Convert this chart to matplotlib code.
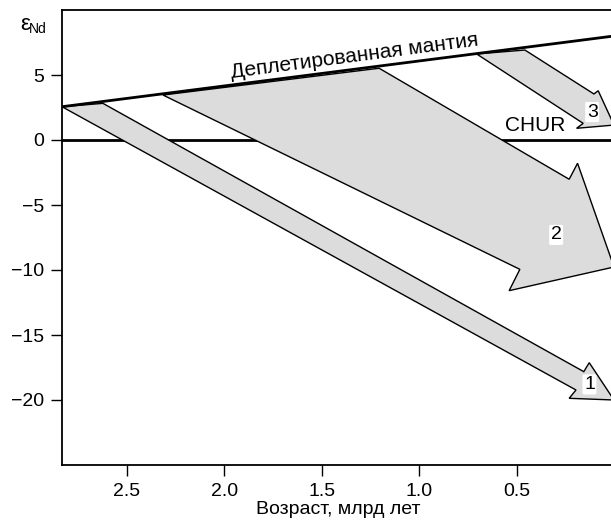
import matplotlib.pyplot as plt
from matplotlib.patches import Polygon

plt.rcParams['font.family'] = ['Liberation Sans', 'DejaVu Sans']

# Деплетированная мантия: возраст (млрд лет) и eps_Nd
dm_age = [2.832, 0.0]
dm_eps = [2.56, 8.0]

# CHUR
chur_age = [2.832, 0.0]
chur_eps = [0.0, 0.0]

# контуры стрелок (возраст, eps_Nd), по часовой стрелке от хвоста
arrow1_age = [2.832, 2.622, 0.155, 0.127, 0.0, 0.230, 0.195]
arrow1_eps = [2.56, 2.82, -17.82, -17.13, -20.0, -19.87, -19.23]

arrow2_age = [2.314, 1.205, 0.230, 0.187, 0.0, 0.538, 0.483]
arrow2_eps = [3.46, 5.52, -3.02, -1.79, -9.77, -11.59, -9.95]

arrow3_age = [0.705, 0.457, 0.103, 0.081, 0.0, 0.192, 0.158]
arrow3_eps = [6.62, 6.92, 3.54, 3.79, 1.15, 0.90, 1.28]

arrow_labels = ["1", "2", "3"]
label_age = [0.126, 0.297, 0.112]
label_eps = [-18.8, -7.3, 2.15]

xticks = [2.5, 2.0, 1.5, 1.0, 0.5]
yticks = [5, 0, -5, -10, -15, -20]

fig = plt.figure(figsize=(6.11, 5.26), dpi=100, facecolor='white')
W, H = 611, 526
ax = fig.add_axes([62 / W, (H - 465) / H, (614 - 62) / W, (465 - 10) / H])
ax.set_xlim(2.832, 0.0)
ax.set_ylim(-25, 10)

ax.plot(chur_age, chur_eps, color='black', lw=2.0, zorder=1)

for ages, eps in [(arrow1_age, arrow1_eps), (arrow2_age, arrow2_eps), (arrow3_age, arrow3_eps)]:
    poly = Polygon(list(zip(ages, eps)), closed=True, facecolor='#dcdcdc',
                   edgecolor='black', lw=1.0, zorder=2, joinstyle='miter')
    ax.add_patch(poly)

ax.plot(dm_age, dm_eps, color='black', lw=2.0, zorder=3, solid_capstyle='butt')

for lab, a, e in zip(arrow_labels, label_age, label_eps):
    ax.text(a, e, lab, fontsize=14, ha='center', va='center', zorder=4,
            bbox=dict(boxstyle='round,pad=0.08', fc='white', ec='none'))

ax.text(1.333, 6.45, "Деплетированная мантия", fontsize=15, rotation=7.5,
        ha='center', va='center', rotation_mode='anchor', zorder=5)
ax.text(0.405, 1.1, "CHUR", fontsize=15, ha='center', va='center', zorder=5)

ax.set_xticks(xticks)
ax.set_xticklabels([f"{t:.1f}" for t in xticks])
ax.set_yticks(yticks)
ax.set_yticklabels([str(t).replace('-', '\u2212') for t in yticks])
ax.tick_params(direction='out', length=8, width=1.0, labelsize=14, pad=5)

for s in ['left', 'bottom', 'top', 'right']:
    ax.spines[s].set_linewidth(1.3)

ax.set_xlabel("Возраст, млрд лет", fontsize=14, labelpad=1)

fig.text(20 / W, 1 - 25 / H, "\u03b5", fontsize=16, ha='left', va='center')
fig.text(29 / W, 1 - 29 / H, "Nd", fontsize=10, ha='left', va='center')

fig.savefig("out.png", dpi=100, facecolor='white')
